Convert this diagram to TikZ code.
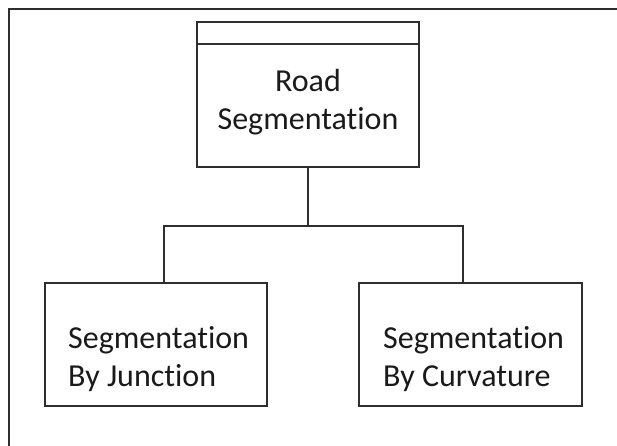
\documentclass[tikz,border=0pt]{standalone}
\usepackage{fontspec}
\setmainfont{Carlito}[Ligatures=NoCommon]
\definecolor{edge}{HTML}{2E2E2E}
\definecolor{ink}{HTML}{1A1A1A}
\begin{document}
\begin{tikzpicture}[x=1pt,y=-1pt,
  box/.style={draw=edge,line width=1.6pt,fill=white,inner sep=0pt},
  wire/.style={draw=edge,line width=1.6pt},
  caption/.style={text=ink,font=\fontsize{32}{38}\selectfont,inner sep=0pt}]
\useasboundingbox[fill=white] (0,0) rectangle (617,446);

% outer frame (top and left edges only)
\coordinate (fr) at (617,9);
\coordinate (fc) at (9,9);
\coordinate (fb) at (9,446);
\draw[wire,line width=1.8pt] (fr) -- (fc) -- (fb);

% parent node with its title strip
\node[box,minimum width=222pt,minimum height=145pt] (road) at (308,94.5) {};
\draw[wire] ([yshift=-23pt]road.north west) -- ([yshift=-23pt]road.north east);
\node[caption,align=center] (roadtxt) at (308,102) {Road\\Segmentation};

% child nodes
\node[box,minimum width=222pt,minimum height=123pt] (junc) at (156,344.5) {};
\node[box,minimum width=223pt,minimum height=123pt] (curv) at (470.5,344.5) {};
\node[caption,align=left,anchor=west] (junctxt) at (68,359) {Segmentation\\By Junction};
\node[caption,align=left,anchor=west] (curvtxt) at (383,359) {Segmentation\\By Curvature};

% tree connectors
\coordinate (jtop) at (164,283);
\coordinate (ctop) at (463,283);
\draw[wire] (road.south) -- (308,226) coordinate (hub);
\draw[wire] (jtop) |- (hub) -| (ctop);
\end{tikzpicture}
\end{document}
